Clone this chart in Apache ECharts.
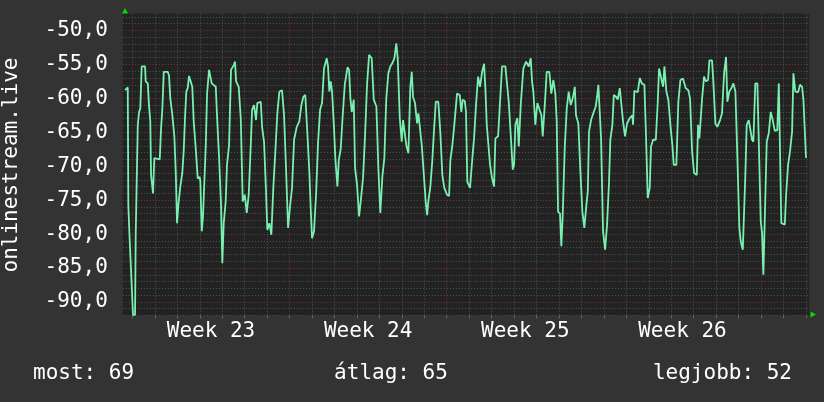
<!DOCTYPE html>
<html>
<head>
<meta charset="utf-8">
<script src="https://cdn.jsdelivr.net/npm/echarts@6/dist/echarts.min.js"></script>
<style>
  html, body { margin: 0; background: #333; }
  #chart { width: 824px; height: 402px; }
</style>
</head>
<body>
<div id="chart"></div>
<script>
// hours since the start of week 23 (Monday 00:00)
const hours = [
  -7.9, -5.0, -4.4, -2.9, -1.5, 0.6, 2.8, 3.5, 4.9, 5.7, 7.1, 8.4, 9.9, 13.5, 14.2, 16.4, 17.7, 19.1, 19.9, 22.0,
  23.4, 29.2, 30.6, 32.0, 33.5, 37.7, 39.1, 40.5, 42.7, 44.8, 46.3, 47.7, 49.1, 51.2, 53.3, 54.8, 56.2, 57.6, 59.1, 60.5,
  62.6, 64.0, 65.5, 67.7, 69.8, 72.0, 72.6, 74.1, 75.5, 76.9, 78.4, 79.8, 81.9, 83.3, 84.8, 89.1, 90.4, 92.6, 94.7, 96.1,
  97.6, 99.7, 101.1, 103.3, 105.4, 108.3, 109.7, 110.8, 113.6, 115.8, 117.9, 120.1, 122.2, 124.3, 126.5, 127.9, 130.0, 132.1, 133.5, 137.2,
  138.6, 140.7, 142.8, 144.2, 146.4, 148.5, 150.6, 152.8, 154.9, 157.1, 159.9, 162.1, 164.2, 166.4, 168.5, 170.6, 172.8, 175.7, 178.4, 180.6,
  182.7, 184.8, 187.0, 189.1, 190.6, 192.0, 194.1, 196.3, 198.4, 200.6, 202.7, 204.8, 207.7, 209.1, 210.5, 212.0, 213.4, 215.5, 216.9, 219.1,
  220.6, 222.7, 224.8, 227.0, 230.0, 231.6, 233.0, 234.5, 236.6, 238.0, 240.1, 242.3, 244.4, 246.5, 248.7, 250.8, 253.0, 255.8, 258.0, 260.8,
  262.9, 265.0, 267.2, 269.3, 271.4, 273.6, 275.7, 277.9, 280.0, 282.1, 283.6, 285.8, 287.9, 289.3, 291.4, 292.8, 295.0, 297.1, 298.6, 300.0,
  302.1, 304.3, 305.7, 307.8, 309.3, 311.4, 313.6, 315.0, 316.3, 318.5, 320.6, 322.1, 324.3, 327.0, 329.2, 331.3, 333.4, 336.3, 338.5, 339.9,
  342.0, 344.1, 347.0, 349.9, 351.6, 353.1, 355.3, 356.6, 358.0, 360.9, 363.1, 365.2, 367.3, 369.5, 371.6, 373.8, 375.9, 377.3, 378.8, 380.9,
  382.3, 384.5, 386.6, 388.0, 390.9, 393.0, 395.1, 398.7, 400.2, 402.3, 404.4, 406.6, 408.0, 409.4, 411.5, 413.0, 415.1, 417.9, 420.8, 423.7,
  425.8, 427.2, 428.6, 430.7, 432.9, 435.0, 437.2, 438.6, 440.8, 442.9, 445.7, 447.8, 450.0, 452.1, 453.6, 455.0, 457.1, 458.5, 460.0, 462.2,
  464.3, 466.4, 468.6, 470.7, 472.9, 474.2, 476.7, 478.8, 481.0, 483.1, 485.3, 486.8, 488.1, 490.3, 493.2, 495.3, 496.7, 498.1, 499.6, 501.0,
  503.1, 505.3, 507.4, 509.5, 510.9, 513.1, 514.6, 517.3, 518.8, 521.0, 522.4, 524.5, 526.6, 528.8, 531.7, 534.4, 535.2, 536.6, 540.2, 542.4,
  544.5, 547.3, 548.8, 550.9, 553.0, 554.4, 556.6, 559.5, 561.6, 563.0, 565.1, 567.3, 568.7, 570.8, 572.9, 575.1, 577.2, 578.7, 581.5, 583.6,
  585.8, 588.6, 591.5, 594.3, 596.1, 598.3, 600.4, 603.3, 604.7, 606.1, 607.6, 609.0, 611.1, 613.2, 615.4, 616.8, 619.6, 621.0, 623.2, 625.3,
  628.2, 630.3, 632.5, 634.6, 636.0, 638.1, 640.3, 642.4, 644.6, 646.7, 648.8, 650.3, 652.5, 653.9, 655.3, 656.7, 658.9, 661.0, 662.4, 663.8,
  665.9, 668.1, 669.6, 671.7, 673.1, 674.5, 676.0, 678.1, 680.3, 682.4, 684.5, 686.7, 689.4, 691.0, 692.4, 693.7, 697.4, 698.8, 700.9, 703.0,
  705.2, 706.6, 708.7, 711.6, 713.7, 715.9, 717.3, 718.8, 720.1
];
const signal = [
  -58.8, -58.4, -75.7, -81.0, -81.1, -91.9, -91.9, -80.1, -80.1, -63.9, -62.0, -61.5, -55.3, -55.3, -57.5, -57.8, -61.0, -63.4, -71.3, -74.0,
  -68.8, -69.0, -64.4, -61.5, -56.1, -56.1, -56.6, -60.0, -62.5, -65.6, -70.8, -78.4, -75.7, -73.0, -71.0, -67.8, -62.9, -59.0, -58.5, -56.7,
  -56.8, -58.3, -63.4, -67.4, -71.8, -71.6, -72.3, -79.6, -77.2, -77.2, -66.9, -59.3, -55.8, -56.8, -57.8, -58.3, -62.5, -68.6, -75.7, -84.3,
  -78.4, -75.2, -69.8, -66.9, -55.8, -55.1, -54.6, -57.5, -58.3, -62.9, -75.2, -74.2, -76.9, -74.2, -66.9, -61.7, -61.0, -63.2, -60.7, -60.5,
  -64.2, -66.4, -73.7, -79.4, -78.4, -80.1, -73.2, -67.8, -62.2, -59.0, -58.8, -62.5, -70.3, -79.1, -75.9, -73.2, -66.1, -64.2, -63.4, -61.0,
  -59.8, -59.5, -65.1, -70.8, -76.2, -80.6, -79.6, -74.2, -66.6, -61.7, -60.7, -55.6, -54.1, -55.3, -59.0, -57.5, -59.0, -64.4, -68.8, -73.0,
  -69.1, -67.4, -62.5, -58.0, -55.4, -55.8, -60.0, -62.0, -60.2, -70.3, -72.7, -77.4, -74.7, -71.8, -65.4, -58.0, -53.6, -54.1, -60.2, -61.2,
  -70.3, -76.9, -71.5, -68.8, -60.0, -56.3, -55.3, -54.8, -54.1, -51.9, -54.1, -62.9, -66.4, -63.2, -63.2, -66.9, -68.1, -58.3, -56.1, -59.8,
  -60.7, -63.7, -62.2, -62.2, -66.9, -71.0, -75.4, -77.2, -75.2, -73.0, -69.1, -65.4, -60.5, -60.5, -65.1, -71.3, -73.2, -74.2, -74.4, -69.1,
  -66.9, -63.9, -59.3, -59.5, -62.0, -60.2, -60.4, -62.0, -72.3, -73.2, -69.3, -65.9, -61.0, -56.8, -58.3, -56.1, -54.9, -58.5, -63.9, -63.9,
  -69.8, -71.8, -73.0, -65.9, -65.6, -60.5, -55.3, -55.3, -57.5, -60.5, -60.7, -70.5, -69.8, -63.9, -62.9, -67.1, -61.0, -55.6, -54.6, -55.3,
  -54.1, -57.5, -59.0, -63.9, -60.7, -60.5, -62.5, -65.6, -61.0, -56.1, -56.1, -59.3, -57.3, -59.3, -63.4, -76.7, -77.0, -81.8, -77.2, -67.1,
  -61.5, -59.0, -61.0, -60.0, -58.3, -62.5, -63.7, -70.5, -76.7, -79.1, -75.7, -73.7, -64.9, -63.2, -62.0, -61.2, -59.8, -58.0, -57.8, -65.9,
  -79.6, -82.3, -78.6, -72.3, -66.1, -63.9, -59.5, -59.8, -60.2, -58.5, -60.5, -63.4, -65.6, -63.7, -62.9, -62.5, -63.9, -58.9, -59.1, -57.0,
  -57.8, -58.0, -64.4, -74.7, -73.2, -67.1, -66.1, -66.1, -60.5, -55.6, -55.6, -58.3, -55.3, -59.0, -60.2, -63.9, -66.9, -69.8, -69.8, -60.5,
  -57.3, -57.1, -58.5, -58.8, -60.0, -67.8, -71.0, -71.3, -63.9, -65.9, -65.9, -60.0, -56.8, -57.5, -57.3, -54.4, -54.4, -57.5, -63.7, -64.2,
  -63.2, -62.2, -56.3, -53.9, -60.5, -59.0, -58.5, -57.8, -59.0, -68.6, -79.1, -81.1, -82.3, -82.5, -71.0, -63.9, -63.2, -63.0, -66.1, -66.4,
  -57.8, -57.8, -66.4, -78.1, -79.9, -86.0, -86.0, -66.4, -65.1, -62.0, -63.2, -64.8, -64.7, -57.8, -58.0, -78.4, -78.6, -74.2, -69.8, -67.8,
  -64.9, -56.3, -59.0, -59.1, -58.0, -58.3, -60.2, -60.2, -68.8
];
const yLabels = [-90, -85, -80, -75, -70, -65, -60, -55, -50];
const weekStarts = [0, 168, 336, 504, 672];
const weekNames = ['Week 23', 'Week 24', 'Week 25', 'Week 26'];
const statNames = ['most', 'átlag', 'legjobb'];
const statValues = [69, 65, 52];

const xMin = -10.3, xMax = 723.6;
const yMin = -92, yMax = -47.5;
const FONT = '"DejaVu Sans Mono", monospace';
const GRID = '#555';
const MAJOR = '#7a3434';

const dayLines = [];
for (let h = 0; h <= xMax; h += 24) dayLines.push(h);
const weekMids = weekStarts.slice(0, -1).map(s => s + 84);
const unitLines = [];
for (let v = yMin; v < yMax; v += 1) unitLines.push(v);

const chart = echarts.init(document.getElementById('chart'), null, { renderer: 'canvas' });

chart.setOption({
  backgroundColor: '#333',
  animation: false,
  grid: {
    left: 122.8,
    right: 14.7,
    top: 13.5,
    bottom: 86.5,
    show: true,
    backgroundColor: '#222',
    borderWidth: 0,
    outerBoundsMode: 'none'
  },
  xAxis: {
    type: 'value',
    min: xMin,
    max: xMax,
    axisLine: { show: false },
    axisTick: {
      show: true,
      customValues: dayLines,
      length: 3,
      lineStyle: { color: '#666' }
    },
    axisLabel: {
      customValues: weekMids,
      formatter: v => weekNames[Math.floor(v / 168)],
      color: '#fff',
      fontFamily: FONT,
      fontSize: 21,
      margin: 6
    },
    splitLine: {
      show: true,
      lineStyle: { color: [MAJOR, GRID, GRID, GRID, GRID, GRID, GRID], type: [1, 2], width: 1 }
    }
  },
  yAxis: {
    type: 'value',
    min: yMin,
    max: yMax,
    axisLine: { show: false },
    axisTick: { show: false, customValues: unitLines },
    axisLabel: {
      customValues: yLabels,
      formatter: v => v.toFixed(1).replace('.', ','),
      color: '#fff',
      fontFamily: FONT,
      fontSize: 21,
      margin: 15
    },
    splitLine: {
      show: true,
      lineStyle: { color: [GRID, GRID, MAJOR, GRID, GRID], type: [1, 2], width: 1 }
    }
  },
  series: [
    {
      type: 'line',
      data: hours.map((h, i) => [h, signal[i]]),
      showSymbol: false,
      clip: true,
      lineStyle: { color: '#78f0b0', width: 1.8 }
    }
  ],
  graphic: [
    {
      type: 'text',
      x: 12, y: 165,
      rotation: Math.PI / 2,
      style: {
        text: 'onlinestream.live', fill: '#fff', font: '21px ' + FONT,
        align: 'center', verticalAlign: 'middle', textAlign: 'center', textVerticalAlign: 'middle'
      }
    },
    {
      type: 'text', x: 33, y: 374,
      style: { text: statNames[0] + ': ' + statValues[0], fill: '#fff', font: '21px ' + FONT,
        align: 'left', verticalAlign: 'middle', textAlign: 'left', textVerticalAlign: 'middle' }
    },
    {
      type: 'text', x: 391, y: 374,
      style: { text: statNames[1] + ': ' + statValues[1], fill: '#fff', font: '21px ' + FONT,
        align: 'center', verticalAlign: 'middle', textAlign: 'center', textVerticalAlign: 'middle' }
    },
    {
      type: 'text', x: 792, y: 374,
      style: { text: statNames[2] + ': ' + statValues[2], fill: '#fff', font: '21px ' + FONT,
        align: 'right', verticalAlign: 'middle', textAlign: 'right', textVerticalAlign: 'middle' }
    },
    // axis arrows
    {
      type: 'polygon',
      shape: { points: [[122, 13.5], [125, 8], [128, 13.5]] },
      style: { fill: '#00dd00' }
    },
    {
      type: 'polygon',
      shape: { points: [[810.5, 311.5], [816, 314.5], [810.5, 317.5]] },
      style: { fill: '#00dd00' }
    }
  ]
});
</script>
</body>
</html>
